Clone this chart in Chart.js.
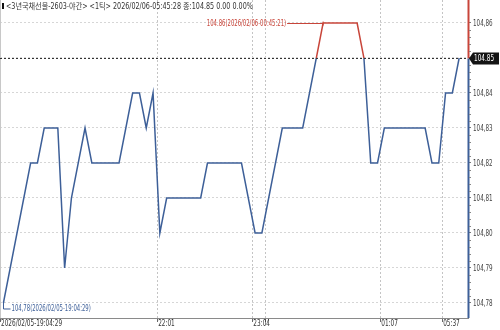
<!DOCTYPE html>
<html>
<head>
<meta charset="utf-8">
<script src="https://cdn.jsdelivr.net/npm/chart.js@4.4.1/dist/chart.umd.min.js"></script>
<style>
    html, body { margin: 0; padding: 0; background: #fff; }
    #wrap { width: 500px; height: 330px; position: relative; }
</style>
</head>
<body>
<div id="wrap"><canvas id="tick-chart"></canvas></div>
<script>
// tick index of each turning point and its price
const tickIndex = [0, 4, 5, 6, 8, 9, 10, 12, 13, 17, 19, 20, 21, 22, 23, 24, 29, 30, 35, 37, 38, 41, 44, 47, 52, 53, 54, 55, 56, 62, 63, 64, 65, 66, 67];
const prices = [104.78, 104.82, 104.82, 104.83, 104.83, 104.79, 104.81, 104.83, 104.82, 104.82, 104.84, 104.84, 104.83, 104.84, 104.80, 104.81, 104.81, 104.82, 104.82, 104.80, 104.80, 104.83, 104.83, 104.86, 104.86, 104.85, 104.82, 104.82, 104.83, 104.83, 104.82, 104.82, 104.84, 104.84, 104.85];

// axis labels
const yTicks = [104.78, 104.79, 104.80, 104.81, 104.82, 104.83, 104.84, 104.85, 104.86];
const xTickPos = [-0.5, 22.6, 36.6, 38.6, 55.4, 64.5];
const xTickLabels = ['2026/02/05-19:04:29', '22:01', '23:04', '', '01:07', '05:37'];

const title = '<3년국채선물-2603-야간> <1틱> 2026/02/06-05:45:28 종:104.85 0.00 0.00%';
const lastPrice = 104.85;
const highTime = '2026/02/06-00:45:21';
const lowTime = '2026/02/05-19:04:29';

const RED = '#c8453a';
const BLUE = '#3d5f98';
const FONT = '"DejaVu Sans Condensed", "Noto Sans CJK KR", sans-serif';

function lineColor(context) {
    const chart = context.chart;
    const area = chart.chartArea;
    if (!area) return BLUE;
    const py = chart.scales.y.getPixelForValue(lastPrice);
    const t = Math.min(1, Math.max(0, (py - area.top) / (area.bottom - area.top)));
    const g = chart.ctx.createLinearGradient(0, area.top, 0, area.bottom);
    g.addColorStop(0, RED);
    g.addColorStop(t, RED);
    g.addColorStop(t, BLUE);
    g.addColorStop(1, BLUE);
    return g;
}

// narrow text like the terminal font
function narrowText(ctx, text, x, y, align, sx) {
    ctx.save();
    ctx.translate(x, y);
    ctx.scale(sx, 1);
    ctx.textAlign = align;
    ctx.textBaseline = 'middle';
    ctx.fillText(text, 0, 0);
    ctx.restore();
}

const overlay = {
    id: 'overlay',
    afterDraw(chart) {
        const ctx = chart.ctx;
        const area = chart.chartArea;
        const xs = chart.scales.x;
        const ys = chart.scales.y;
        const py = Math.round(ys.getPixelForValue(lastPrice)) + 0.5;
        ctx.save();
        ctx.font = '8px ' + FONT;

        // left frame
        ctx.strokeStyle = '#c8c8c8';
        ctx.lineWidth = 1;
        ctx.beginPath();
        ctx.moveTo(area.left + 0.5, area.top);
        ctx.lineTo(area.left + 0.5, area.bottom);
        ctx.stroke();

        // last price dotted line
        ctx.strokeStyle = '#333';
        ctx.setLineDash([2, 2]);
        ctx.beginPath();
        ctx.moveTo(area.left, py);
        ctx.lineTo(area.right, py);
        ctx.stroke();
        ctx.setLineDash([]);

        // right axis, split at last price
        const ax = area.right + 0.5;
        ctx.lineWidth = 2;
        ctx.strokeStyle = RED;
        ctx.beginPath();
        ctx.moveTo(ax, area.top);
        ctx.lineTo(ax, py);
        ctx.stroke();
        ctx.strokeStyle = BLUE;
        ctx.beginPath();
        ctx.moveTo(ax, py);
        ctx.lineTo(ax, area.bottom);
        ctx.stroke();

        // minor ticks
        ctx.lineWidth = 1;
        ctx.strokeStyle = '#888';
        for (let k = 0; k < yTicks.length - 1; k++) {
            for (let m = 1; m < 5; m++) {
                const v = yTicks[k] + (yTicks[k + 1] - yTicks[k]) * m / 5;
                const y = Math.round(ys.getPixelForValue(v)) + 0.5;
                ctx.beginPath();
                ctx.moveTo(area.right + 1, y);
                ctx.lineTo(area.right + 3, y);
                ctx.stroke();
            }
        }

        // y labels
        ctx.fillStyle = '#444';
        yTicks.forEach(v => {
            if (v === lastPrice) return;
            narrowText(ctx, v.toFixed(2).replace('.', ','), area.right + 5, ys.getPixelForValue(v) + 0.5, 'left', 0.78);
        });

        // x labels
        ctx.fillStyle = '#333';
        xTickPos.forEach((v, i) => {
            narrowText(ctx, xTickLabels[i], xs.getPixelForValue(v) + 1, area.bottom + 6, 'left', 0.8);
        });

        // last price box
        ctx.fillStyle = '#141414';
        ctx.beginPath();
        ctx.moveTo(area.right + 1, py);
        ctx.lineTo(area.right + 5, py - 6);
        ctx.lineTo(chart.width - 1, py - 6);
        ctx.lineTo(chart.width - 1, py + 6);
        ctx.lineTo(area.right + 5, py + 6);
        ctx.closePath();
        ctx.fill();
        ctx.fillStyle = '#fff';
        narrowText(ctx, lastPrice.toFixed(2), area.right + 6, py + 0.5, 'left', 0.8);

        // high marker
        const hi = Math.max(...prices);
        const hiIdx = tickIndex[prices.indexOf(hi)];
        const hx = xs.getPixelForValue(hiIdx);
        const hy = Math.round(ys.getPixelForValue(hi)) + 0.5;
        ctx.strokeStyle = RED;
        ctx.beginPath();
        ctx.moveTo(hx - 36, hy);
        ctx.lineTo(hx, hy);
        ctx.moveTo(hx, hy - 2);
        ctx.lineTo(hx, hy + 2);
        ctx.stroke();
        ctx.fillStyle = RED;
        narrowText(ctx, hi.toFixed(2) + '(' + highTime + ')', hx - 37, hy, 'right', 0.74);

        // low marker
        const lo = Math.min(...prices);
        const loIdx = tickIndex[prices.indexOf(lo)];
        const lx = Math.round(xs.getPixelForValue(loIdx)) + 0.5;
        const ly = ys.getPixelForValue(lo);
        ctx.strokeStyle = BLUE;
        ctx.beginPath();
        ctx.moveTo(lx, ly);
        ctx.lineTo(lx, ly + 6);
        ctx.lineTo(lx + 7, ly + 6);
        ctx.stroke();
        ctx.fillStyle = BLUE;
        narrowText(ctx, lo.toFixed(2).replace('.', ',') + '(' + lowTime + ')', lx + 8, ly + 6, 'left', 0.74);

        // title
        ctx.fillStyle = '#111';
        ctx.fillRect(2, 3, 2, 6);
        ctx.fillStyle = '#333';
        narrowText(ctx, title, 6, 6.5, 'left', 0.89);

        ctx.restore();
    }
};

new Chart(document.getElementById('tick-chart'), {
    type: 'line',
    data: {
        datasets: [{
            data: tickIndex.map((t, i) => ({ x: t, y: prices[i] })),
            borderColor: lineColor,
            borderWidth: 1.5,
            pointRadius: 0,
            tension: 0,
            fill: false,
        }],
    },
    options: {
        responsive: true,
        maintainAspectRatio: false,
        animation: false,
        layout: { padding: 0 },
        plugins: {
            legend: { display: false },
            tooltip: { enabled: false },
        },
        scales: {
            x: {
                type: 'linear',
                min: -0.5,
                max: 68.3,
                afterFit: (scale) => {
                    scale.height = 12;
                    scale.paddingLeft = 0;
                    scale.paddingRight = 0;
                },
                afterBuildTicks: (scale) => { scale.ticks = xTickPos.map(v => ({ value: v })); },
                border: { display: true, color: '#8a8a8a', dash: [2, 2] },
                grid: {
                    color: (c) => c.index === 0 ? 'rgba(0,0,0,0)' : '#c4c4c4',
                    tickColor: '#666',
                    tickLength: 4,
                    tickBorderDash: [],
                },
                ticks: { display: false },
            },
            y: {
                position: 'right',
                min: 104.77571,
                max: 104.86657,
                afterFit: (scale) => {
                    scale.width = 32;
                    scale.paddingTop = 0;
                    scale.paddingBottom = 0;
                },
                afterBuildTicks: (scale) => { scale.ticks = yTicks.map(v => ({ value: v })); },
                border: { display: false, dash: [2, 2] },
                grid: {
                    color: '#d6d6d6',
                    tickColor: '#777',
                    tickLength: 3,
                    tickBorderDash: [],
                },
                ticks: { display: false },
            },
        },
    },
    plugins: [overlay],
});
</script>
</body>
</html>
